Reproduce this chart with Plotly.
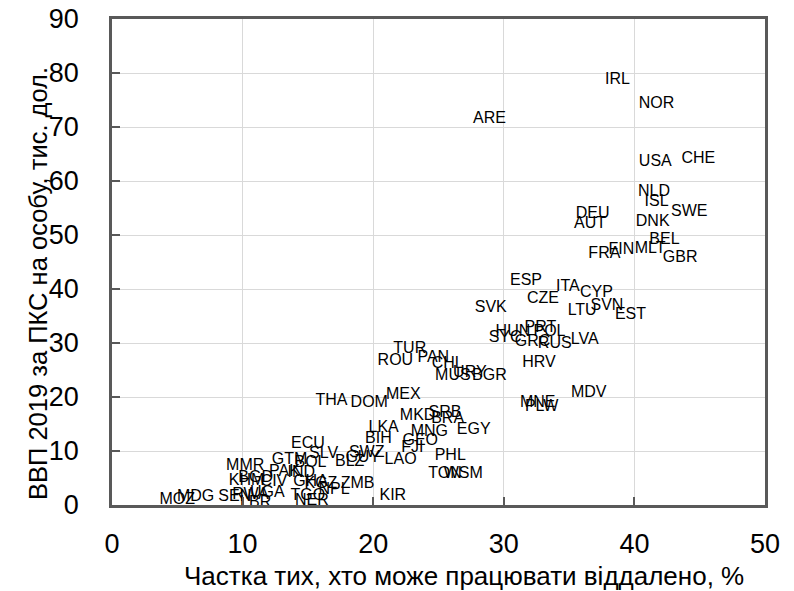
import plotly.graph_objects as go

countries = ["IRL","NOR","ARE","USA","CHE","NLD","ISL","SWE","DEU","AUT","DNK","BEL","MLT","FIN","FRA","GBR",
             "ESP","ITA","CYP","CZE","SVK","LTU","SVN","EST","HUN","PRT","POL","SYC","GRC","RUS","LVA","HRV","MDV","MNE","PLW",
             "TUR","ROU","PAN","CHL","URY","MUS","BGR","MEX","DOM","THA","MKD","SRB","BRA","LKA","MNG","EGY","BIH","GEO","FJI",
             "LAO","SWZ","GUY","BLZ","PHL","TON","WSM","ZMB","KIR",
             "ECU","SLV","GTM","BOL","MMR","PAK","IND","CIV","KHM","BGD","GHA","KGZ","NPL","TGO","NER","SEN","RWA","UGA","LBR","MOZ","MDG"]
remote_share = [38.7,41.7,28.9,41.6,44.9,41.5,41.7,44.2,36.8,36.6,41.4,42.3,41.2,39.0,37.7,43.5,
                31.7,34.9,37.1,33.0,29.0,36.0,37.9,39.7,30.7,32.8,33.5,30.1,32.2,33.9,36.2,32.7,36.5,32.6,32.9,
                22.8,21.7,24.6,25.7,27.4,26.1,28.9,22.3,19.7,16.8,23.4,25.5,25.7,20.8,24.3,27.7,20.4,23.6,23.0,
                22.1,19.5,19.2,18.2,25.9,25.5,26.9,18.8,21.5,
                15.0,16.2,13.6,15.2,10.2,13.2,14.5,12.4,10.3,11.0,15.2,16.0,17.0,15.0,15.3,9.4,10.6,11.9,11.0,5.0,6.4]
gdp_ppp = [78.7,74.2,71.4,63.6,64.0,57.9,56.2,54.2,53.8,52.1,52.5,49.0,47.5,47.3,46.4,45.8,
           41.4,40.3,39.3,38.2,36.4,36.0,36.9,35.1,32.1,32.8,32.1,31.0,30.1,29.9,30.6,26.3,20.8,18.9,18.2,
           28.8,26.7,27.3,26.1,24.5,23.9,23.9,20.4,18.9,19.3,16.5,17.1,16.0,14.3,13.5,13.9,12.2,11.9,10.6,
           8.3,9.6,8.7,8.0,9.1,5.8,5.7,3.9,1.7,
           11.3,9.5,8.3,7.8,7.2,6.2,6.0,4.2,4.4,5.0,4.3,3.8,2.7,1.6,0.7,1.4,1.8,2.2,0.4,1.0,1.5]

x_ticks = [0, 10, 20, 30, 40, 50]
y_ticks = [0, 10, 20, 30, 40, 50, 60, 70, 80, 90]

FONT = "Liberation Sans, Arial"

fig = go.Figure(go.Scatter(
    x=remote_share, y=gdp_ppp, text=countries, mode="text",
    textposition="middle center",
    textfont=dict(family=FONT, size=16, color="#000000"),
    hoverinfo="text", cliponaxis=False,
))

axis_common = dict(
    showline=True, linecolor="#595959", linewidth=2.5, mirror=True,
    showgrid=True, gridcolor="#d9d9d9", gridwidth=1,
    ticks="inside", ticklen=8, tickwidth=2, tickcolor="#595959",
    zeroline=False, automargin=False, ticklabeloverflow="allow",
    tickfont=dict(family=FONT, size=27, color="#000000"),
)

# page body adds an 8px offset, so the figure is sized 8px smaller
fig.update_layout(
    width=786, height=583,
    margin=dict(l=104, r=29, t=11, b=86),
    paper_bgcolor="white", plot_bgcolor="white",
    showlegend=False,
    xaxis=dict(range=[0, 50], tickvals=x_ticks, ticklabelstandoff=13, **axis_common),
    yaxis=dict(range=[0, 90], tickvals=y_ticks, ticklabelstandoff=25, **axis_common),
    annotations=[
        dict(text="Частка тих, хто може працювати віддалено, %", xref="paper", yref="paper",
             x=0.5, y=0, xshift=25, yshift=-71, showarrow=False,
             xanchor="center", yanchor="middle",
             font=dict(family=FONT, size=26, color="#000000")),
        dict(text="ВВП 2019 за ПКС на особу, тис. дол.", xref="paper", yref="paper",
             x=0, y=0.5, xshift=-74, yshift=-22, showarrow=False, textangle=-90,
             xanchor="center", yanchor="middle",
             font=dict(family=FONT, size=25.5, color="#000000")),
    ],
)

fig.write_html("out.html")
